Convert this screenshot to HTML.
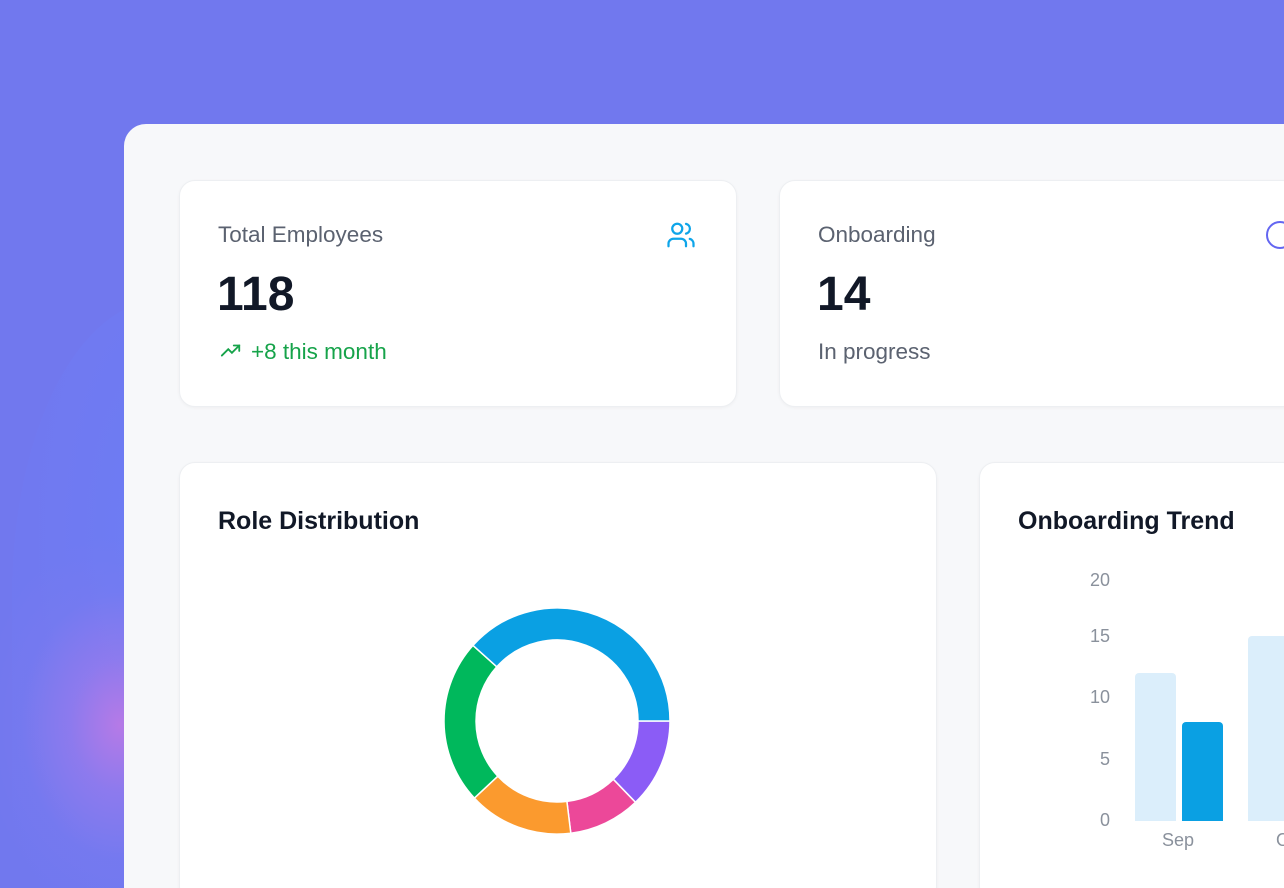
<!DOCTYPE html>
<html><head><style>
*{margin:0;padding:0;box-sizing:border-box}
html,body{width:1284px;height:888px;overflow:hidden}
body{position:relative;font-family:"Liberation Sans",sans-serif;background:#7178ee;}
.glow{position:absolute;left:12px;top:300px;width:300px;height:588px;border-radius:50% 50% 0 0;
background:radial-gradient(ellipse at 50% 40%,rgba(108,125,245,0.9) 0%,rgba(112,122,242,0.6) 60%,rgba(113,120,238,0) 100%);}
.spot{position:absolute;left:-20px;top:500px;width:280px;height:388px;
background:radial-gradient(ellipse 140px 190px at 50% 58%,rgba(185,122,230,0.95) 0%,rgba(160,123,235,0.6) 35%,rgba(130,122,238,0.25) 70%,rgba(113,120,238,0) 100%);}
.panel{position:absolute;left:124px;top:124px;width:1160px;height:764px;background:#f7f8fa;border-radius:22px 0 0 0;}
.card{position:absolute;background:#fff;border:1px solid #edeff2;border-radius:16px;box-shadow:0 1px 3px rgba(0,0,0,0.04);}
.lbl{position:absolute;font-size:22.5px;color:#5b6270}
.big{position:absolute;font-size:48px;font-weight:bold;color:#111827}
.title{position:absolute;font-size:25px;font-weight:bold;color:#111827}
.ax{position:absolute;font-size:18px;color:#8a919c;text-align:right;width:40px}
</style></head><body>
<div class="glow"></div>
<div class="spot"></div>
<div class="panel"></div>
<div class="card" style="left:179px;top:180px;width:558px;height:227px"></div>
<div class="lbl" style="left:218px;top:222px">Total Employees</div>
<svg style="position:absolute;left:665px;top:220px" width="32" height="30" viewBox="0 0 24 24" fill="none" stroke="#0ea5e9" stroke-width="1.8" stroke-linecap="round"><circle cx="9" cy="7" r="4"/><path d="M2 21v-2a4 4 0 0 1 4-4h6a4 4 0 0 1 4 4v2"/><path d="M16 3.1a4 4 0 0 1 0 7.8"/><path d="M22 21v-2a4 4 0 0 0-3-3.9"/></svg>
<div class="big" style="left:217px;top:267px">118</div>
<svg style="position:absolute;left:218px;top:340px" width="26" height="22" viewBox="0 0 24 24" fill="none" stroke="#16a34a" stroke-width="2" stroke-linecap="round"><path d="M2 17l7-7 4 4 8-8"/><path d="M15 6h6v6"/></svg>
<div class="lbl" style="left:251px;top:339px;color:#16a34a">+8 this month</div>
<div class="card" style="left:779px;top:180px;width:520px;height:227px"></div>
<div class="lbl" style="left:818px;top:222px">Onboarding</div>
<div style="position:absolute;left:1266px;top:221px;width:28px;height:28px;border:2.5px solid #6366f1;border-radius:50%"></div>
<div class="big" style="left:817px;top:267px">14</div>
<div class="lbl" style="left:818px;top:339px">In progress</div>
<div class="card" style="left:179px;top:462px;width:758px;height:440px"></div>
<div class="title" style="left:218px;top:507px">Role Distribution</div>
<svg style="position:absolute;left:444px;top:608px" width="226" height="226" viewBox="-113 -113 226 226">
<g stroke="#fff" stroke-width="1.5">
<path fill="#8b5cf6" d="M113 0 A113 113 0 0 1 78.5 81.3 L56.3 58.3 A81 81 0 0 0 81 0Z"/>
<path fill="#ec4899" d="M78.5 81.3 A113 113 0 0 1 13.8 112.2 L9.9 80.4 A81 81 0 0 0 56.3 58.3Z"/>
<path fill="#fb9a2e" d="M13.8 112.2 A113 113 0 0 1 -82.6 77.1 L-59.2 55.2 A81 81 0 0 0 9.9 80.4Z"/>
<path fill="#00b85c" d="M-82.6 77.1 A113 113 0 0 1 -84 -75.6 L-60.2 -54.2 A81 81 0 0 0 -59.2 55.2Z"/>
<path fill="#0aa0e3" d="M-84 -75.6 A113 113 0 0 1 113 0 L81 0 A81 81 0 0 0 -60.2 -54.2Z"/>
</g></svg>
<div class="card" style="left:979px;top:462px;width:320px;height:440px"></div>
<div class="title" style="left:1018px;top:507px">Onboarding Trend</div>
<div class="ax" style="left:1070px;top:570px">20</div>
<div class="ax" style="left:1070px;top:626px">15</div>
<div class="ax" style="left:1070px;top:687px">10</div>
<div class="ax" style="left:1070px;top:749px">5</div>
<div class="ax" style="left:1070px;top:810px">0</div>
<div style="position:absolute;left:1135px;top:673px;width:41px;height:148px;background:#dbeefb;border-radius:4px 4px 0 0"></div>
<div style="position:absolute;left:1182px;top:722px;width:41px;height:99px;background:#0aa0e3;border-radius:4px 4px 0 0"></div>
<div style="position:absolute;left:1248px;top:636px;width:36px;height:185px;background:#dbeefb;border-radius:4px 0 0 0"></div>
<div style="position:absolute;left:1162px;top:830px;font-size:18px;color:#8a919c">Sep</div>
<div style="position:absolute;left:1276px;top:830px;width:8px;overflow:hidden;font-size:18px;color:#8a919c">O</div>
</body></html>
